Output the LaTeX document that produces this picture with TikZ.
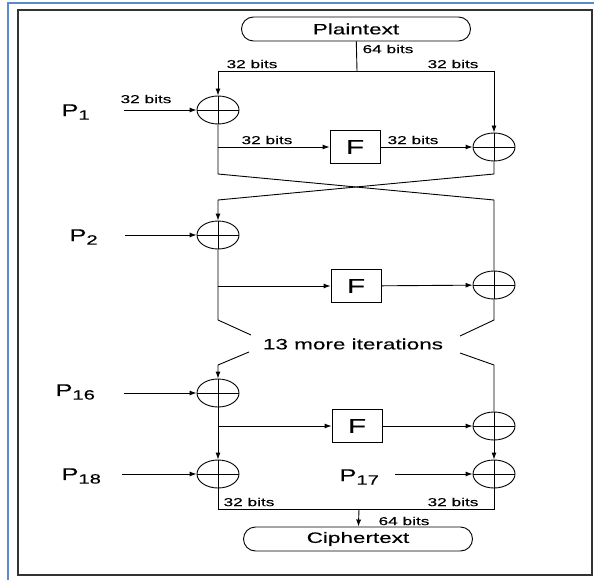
\documentclass[tikz,border=0pt]{standalone}
\usepackage{fontspec}
\setmainfont[FakeStretch=1.5,FakeBold=0.3]{Liberation Sans}
\usetikzlibrary{arrows.meta,shapes.geometric}

\newcommand{\psub}[1]{\raisebox{-0.4ex}{\fontsize{13.5}{13.5}\selectfont #1}}

\tikzset{
	xor/.style={draw, ellipse, minimum width=42pt, minimum height=28pt, inner sep=0pt,
		path picture={\draw (path picture bounding box.north) -- (path picture bounding box.south)
			(path picture bounding box.west) -- (path picture bounding box.east);}},
	fbox/.style={draw, minimum width=50pt, minimum height=33pt, inner sep=0pt, font=\fontsize{20}{20}\selectfont},
	textbox/.style={draw, rounded corners=12pt, minimum width=229pt, minimum height=24pt, inner sep=0pt, font=\fontsize{15}{15}\selectfont},
	bits/.style={inner sep=0pt, font=\fontsize{11.5}{11.5}\selectfont},
	plabel/.style={inner sep=0pt, anchor=west, font=\fontsize{17}{17}\selectfont},
	arr/.style={-{Latex[length=7pt,width=5pt]}},
}

\begin{document}
\begin{tikzpicture}[x=1pt, y=-1pt, line width=0.9pt]
	\useasboundingbox (0,0) rectangle (594,580);
	\draw[line width=2pt, color={rgb,255:red,90;green,140;blue,205}] (8,580) -- (8,3) -- (594,3);
	\draw[line width=1.2pt, color=black!80] (18,10) rectangle (592,575);

	\node[textbox] (pt) at (356,29) {Plaintext};
	\coordinate (split) at (357,71);
	\node[bits] at (388,49) {64 bits};
	\node[bits] at (252,64) {32 bits};
	\node[bits] at (453,64) {32 bits};

	% round 1
	\node[xor] (xl1) at (218,110) {};
	\node[xor] (xr1) at (494,147) {};
	\node[fbox] (f1) at (355,147) {F};
	\node[plabel] (p1) at (61,112) {P\psub{1}};
	\coordinate (in1) at (124,110);
	\node[bits] at (146,99) {32 bits};
	\node[bits] at (267,140) {32 bits};
	\node[bits] at (413,140) {32 bits};
	\coordinate (l1f) at (218,147);
	\coordinate (l1b) at (218,174);
	\coordinate (r1b) at (494,174);
	\coordinate (l2t) at (218,200);
	\coordinate (r2t) at (494,200);

	\draw (pt) -- (split);
	\draw[arr] (split) -| (xl1);
	\draw[arr] (split) -| (xr1);
	\draw[arr] (in1) -- (xl1);
	\draw[arr] (l1f) -- (f1);
	\draw[arr] (f1) -- (xr1);

	% round 2
	\node[xor] (xl2) at (218,235) {};
	\node[xor] (xr2) at (494,285) {};
	\node[fbox] (f2) at (356,286) {F};
	\node[plabel] (p2) at (69,237) {P\psub{2}};
	\coordinate (in2) at (125,235);
	\coordinate (l2f) at (218,286);
	\coordinate (l2b) at (218,320);
	\coordinate (r2b) at (494,320);
	\coordinate (dl2) at (251,335);
	\coordinate (dr2) at (460,336);

	\draw (xl1) -- (l1b) -- (r2t) -- (xr2);
	\draw[arr] (xr1) -- (r1b) -- (l2t) -- (xl2);
	\draw[arr] (in2) -- (xl2);
	\draw[arr] (l2f) -- (f2);
	\draw[arr] (f2) -- (xr2);
	\draw (xl2) -- (l2b) -- (dl2);
	\draw (xr2) -- (r2b) -- (dr2);

	\node[inner sep=0pt, font=\fontsize{15}{15}\selectfont] (more) at (353,344) {13 more iterations};
	\coordinate (dl3) at (249,352);
	\coordinate (l16t) at (218,365);
	\coordinate (dr3) at (460,353);
	\coordinate (r3t) at (494,365);

	% last round
	\node[xor] (xl16) at (218,393) {};
	\node[xor] (xr3) at (494,426) {};
	\node[fbox] (f3) at (357,426) {F};
	\node[xor] (xl18) at (218,474) {};
	\node[xor] (xr17) at (494,474) {};
	\node[plabel] (p16) at (55,392) {P\psub{16}};
	\node[plabel] (p18) at (61,476) {P\psub{18}};
	\node[plabel] (p17) at (339,477) {P\psub{17}};
	\coordinate (in16) at (124,393);
	\coordinate (in18) at (122,474);
	\coordinate (in17) at (395,474);
	\coordinate (l16f) at (218,426);

	\draw[arr] (dl3) -- (l16t) -- (xl16);
	\draw (dr3) -- (r3t) -- (xr3);
	\draw[arr] (in16) -- (xl16);
	\draw[arr] (l16f) -- (f3);
	\draw[arr] (f3) -- (xr3);
	\draw[arr] (xl16) -- (xl18);
	\draw[arr] (xr3) -- (xr17);
	\draw[arr] (in18) -- (xl18);
	\draw[arr] (in17) -- (xr17);

	% output
	\node[textbox] (ct) at (358,539) {Ciphertext};
	\coordinate (lb) at (218,509);
	\coordinate (rb) at (494,509);
	\coordinate (join) at (359,509);
	\node[bits] at (249,502) {32 bits};
	\node[bits] at (453,502) {32 bits};
	\node[bits] at (404,521) {64 bits};

	\draw (xl18) -- (lb) -- (rb) -- (xr17);
	\draw[arr] (join) -- (ct);
\end{tikzpicture}
\end{document}
